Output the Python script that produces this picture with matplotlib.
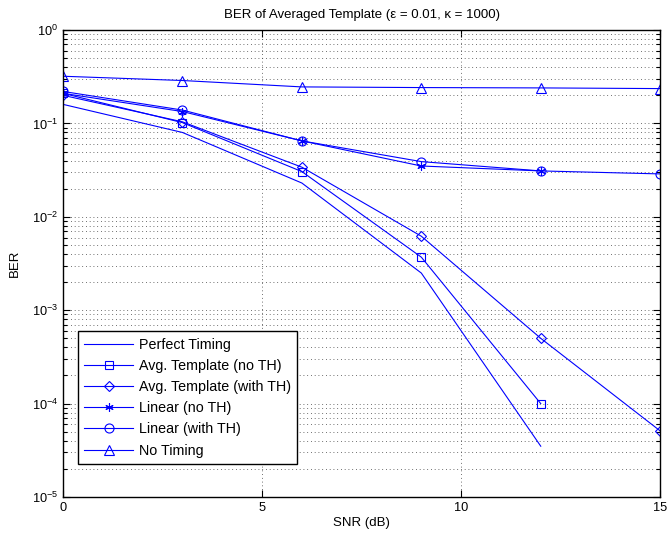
import matplotlib.pyplot as plt
from matplotlib.ticker import LogLocator, NullFormatter, FixedLocator

plt.rcParams['font.family'] = ['Liberation Sans', 'DejaVu Sans']
plt.rcParams['font.size'] = 9
plt.rcParams['mathtext.fontset'] = 'custom'
plt.rcParams['mathtext.rm'] = 'Liberation Sans'

snr = [0, 3, 6, 9, 12, 15]

perfect = [0.16, 0.080, 0.023, 0.0025, 3.5e-5]
avg_no_th = [0.21, 0.102, 0.0305, 0.0037, 1.0e-4]
avg_th = [0.20, 0.104, 0.034, 0.0062, 5.0e-4, 5.1e-5]
lin_no_th = [0.21, 0.134, 0.065, 0.035, 0.031]
lin_th = [0.22, 0.139, 0.065, 0.039, 0.031, 0.0288]
no_timing = [0.32, 0.288, 0.246, 0.242, 0.240, 0.236]

labels = ['Perfect Timing', 'Avg. Template (no TH)', 'Avg. Template (with TH)',
          'Linear (no TH)', 'Linear (with TH)', 'No Timing']

blue = '#0000ff'

fig = plt.figure(figsize=(6.68, 5.38), dpi=100)
ax = fig.add_axes([0.0943, 0.0762, 0.894, 0.868])

series = [perfect, avg_no_th, avg_th, lin_no_th, lin_th, no_timing]
markers = [None, 's', 'D', (6, 2, 0), 'o', '^']
sizes = [0, 5.5, 5, 6, 6.5, 7]
for vals, lab, m, ms in zip(series, labels, markers, sizes):
    ax.plot(snr[:len(vals)], vals, color=blue, lw=0.8, marker=m, ms=ms,
            mfc='none', mec=blue, mew=0.8, label=lab)

ax.set_yscale('log')
ax.set_xlim(0, 15)
ax.set_ylim(1e-5, 1)
ax.xaxis.set_major_locator(FixedLocator([0, 5, 10, 15]))
ax.yaxis.set_major_locator(LogLocator(base=10, numticks=10))
ax.yaxis.set_minor_locator(LogLocator(base=10, subs=range(2, 10), numticks=10))
ax.yaxis.set_minor_formatter(NullFormatter())

ax.grid(True, which='major', ls=(0, (1, 3.5)), color='0.25', lw=0.6)
ax.grid(True, which='minor', axis='y', ls=(0, (1, 3.5)), color='0.25', lw=0.6)

ax.tick_params(which='both', direction='in', top=True, right=True, width=0.8)
ax.tick_params(which='major', length=5, labelsize=9.2)
ax.tick_params(which='minor', length=3)
for s in ax.spines.values():
    s.set_linewidth(1.0)

ax.set_title('BER of Averaged Template (\u03b5 = 0.01, \u03ba = 1000)', fontsize=9.5, pad=9)
ax.set_xlabel('SNR (dB)', fontsize=9.5, labelpad=2)
ax.set_ylabel('BER', fontsize=9.5, labelpad=8)

leg = ax.legend(loc='lower left', bbox_to_anchor=(0.025, 0.0707), borderaxespad=0,
                fancybox=False, edgecolor='black', framealpha=1, handlelength=3.4,
                labelspacing=0.5, borderpad=0.45, handletextpad=0.4, fontsize=10.3)
leg.get_frame().set_linewidth(1.0)

fig.savefig('out.png', dpi=100)
